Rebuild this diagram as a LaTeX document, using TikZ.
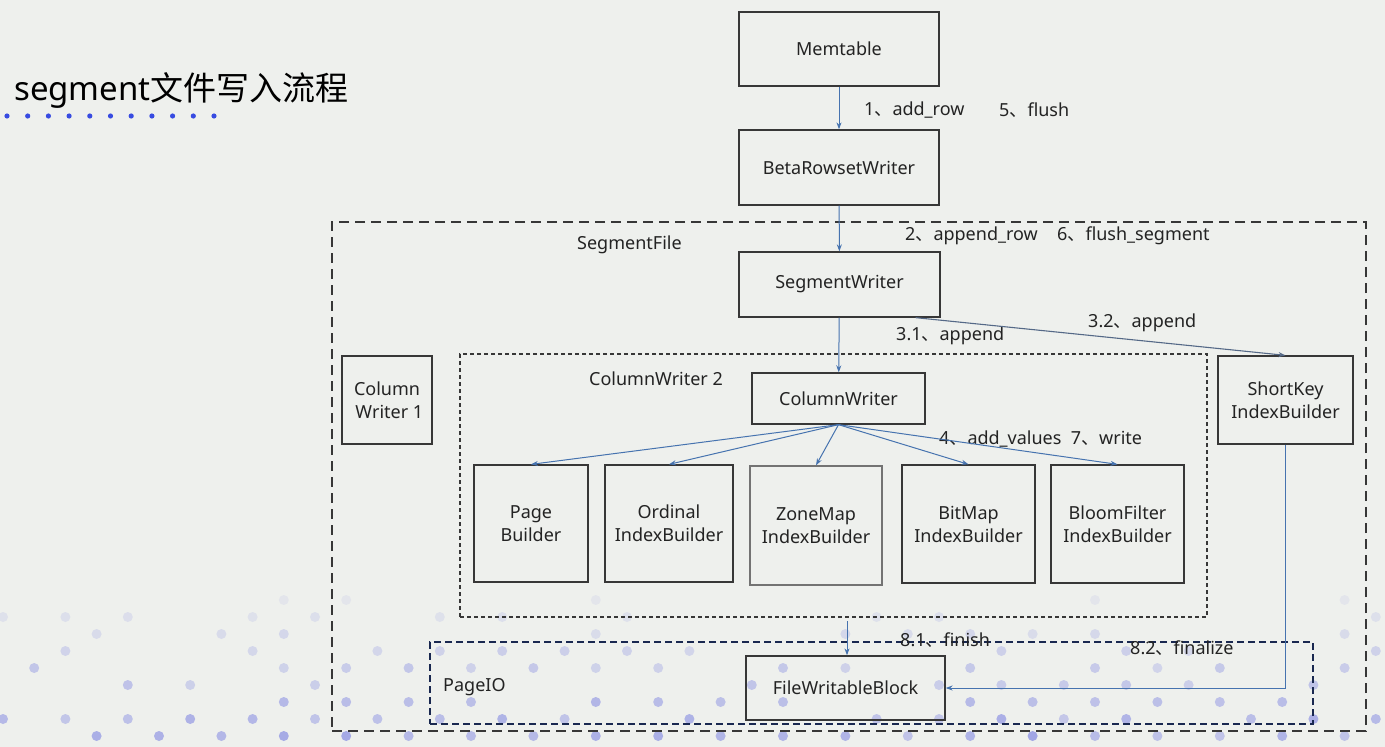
\documentclass[tikz,border=0pt]{standalone}
\usepackage{fontspec}
\setmainfont{Noto Sans}
\newfontfamily\cjk{Noto Sans CJK SC}
\usetikzlibrary{arrows.meta,calc}
\newcommand\dun{{\cjk 、}}
\definecolor{bgc}{RGB}{238,240,237}
\definecolor{boxc}{RGB}{55,55,55}
\definecolor{txtc}{RGB}{35,35,35}
\definecolor{arrc}{RGB}{70,115,175}
\definecolor{arrg}{RGB}{85,105,135}
\definecolor{navy}{RGB}{25,40,80}
\definecolor{dotc}{RGB}{150,155,228}
\definecolor{titledot}{RGB}{55,75,225}
\tikzset{
  box/.style={draw=boxc,line width=1.3pt,align=center,text=txtc,inner sep=0pt,
    font=\fontsize{18}{23}\selectfont},
  lbl/.style={text=txtc,anchor=west,inner sep=0pt,font=\fontsize{18}{23}\selectfont},
  conn/.style={draw=arrc,line width=1pt,-{Stealth[length=7pt,width=5pt]}},
  conng/.style={draw=arrg,line width=1.1pt,-{Stealth[length=7pt,width=5pt]}},
}
\begin{document}
\begin{tikzpicture}[x=1pt,y=-1pt]
\fill[bgc] (0,0) rectangle (1385,747);
\useasboundingbox (0,0) rectangle (1385,747);
% background dots
\pgfmathsetseed{11}
\foreach \k in {0,...,8}{
  \foreach \i in {0,...,44}{
    \pgfmathsetmacro\myparity{mod(\i+\k+1,2)}
    \ifdim\myparity pt<0.5pt
      \pgfmathsetmacro\rr{rnd}
      \pgfmathsetmacro\thr{0.25+0.07*\k}
      \ifdim\rr pt<\thr pt
        \pgfmathsetmacro\op{0.12+0.05*\k+0.35*rnd*(\k/8)}
        \fill[dotc,opacity=\op] ({3+31.2*\i},{600+17*\k}) circle (5);
      \fi
    \fi
  }
}
% title
\node[anchor=west,inner sep=0pt,text=black,font=\fontsize{33}{38}\selectfont] (title) at (14,90) {segment{\cjk 文件写入流程}};
\foreach \j in {0,...,10}{
  \fill[titledot] ({7+20.7*\j},116) circle (2.6);
}
% containers
\node[draw=boxc,line width=1.4pt,dash pattern=on 10pt off 6pt,minimum width=1034,minimum height=509] (segfile) at (849,476.5) {};
\node[draw=boxc,line width=1.2pt,dash pattern=on 4pt off 3pt,minimum width=747,minimum height=263] (cw2box) at (833.5,485.5) {};
\node[draw=navy,line width=1.5pt,dash pattern=on 7pt off 4pt,minimum width=883,minimum height=82] (pageio) at (871.5,683) {};
% boxes
\node[box,minimum width=200,minimum height=74] (mem) at (839,49) {Memtable};
\node[box,minimum width=200,minimum height=75] (beta) at (839,167.5) {BetaRowsetWriter};
\node[box,minimum width=201,minimum height=65] (sw) at (839.5,284.5) {SegmentWriter};
\node[box,minimum width=90,minimum height=88] (cw1) at (387,400) {Column\\\ Writer 1};
\node[box,minimum width=135,minimum height=88] (sk) at (1285.5,400) {ShortKey\\IndexBuilder};
\node[box,minimum width=173,minimum height=51] (cw) at (838.5,398.5) {ColumnWriter};
\node[box,minimum width=114,minimum height=117] (pb) at (531,523.5) {Page\\Builder};
\node[box,minimum width=128,minimum height=117] (ob) at (669,523.5) {Ordinal\\IndexBuilder};
\node[box,draw=boxc!70,minimum width=132,minimum height=119] (zb) at (816,525.5) {ZoneMap\\IndexBuilder};
\node[box,minimum width=133,minimum height=118] (bmb) at (968.5,524) {BitMap\\IndexBuilder};
\node[box,minimum width=133,minimum height=118] (bfb) at (1117.5,524) {BloomFilter\\IndexBuilder};
\node[box,minimum width=199,minimum height=64] (fwb) at (845.5,688) {FileWritableBlock};
% labels
\node[lbl] (l1) at (864,110) {1\dun add\_row};
\node[lbl] (l5) at (999,110) {5\dun flush};
\node[lbl] (l2) at (905,236) {2\dun append\_row};
\node[lbl] (l6) at (1057,236) {6\dun flush\_segment};
\node[lbl] (lsf) at (577,245) {SegmentFile};
\node[lbl] (l31) at (896,336) {3.1\dun append};
\node[lbl] (l32) at (1088,323) {3.2\dun append};
\node[lbl] (lcw2) at (589,379) {ColumnWriter 2};
\node[lbl] (l4) at (939,439) {4\dun add\_values\ \ 7\dun write};
\node[lbl] (l81) at (900,640) {8.1\dun finish};
\node[lbl] (l82) at (1130,648) {8.2\dun finalize};
\node[lbl] (lpio) at (443,687) {PageIO};
% connectors
\draw[conn] (mem) -- (beta);
\draw[conn] (beta) -- (sw);
\draw[conn] (sw) -- (cw);
\coordinate (swout) at ($(sw.south east)+(-25,0)$);
\draw[conng] (swout) -- (sk.north);
\foreach \t in {pb,ob,zb,bmb,bfb}{
  \draw[conn] (cw.south) -- (\t.north);
}
\coordinate (fwbin) at ($(fwb.north)+(1.5,-34)$);
\draw[conn] (fwbin) -- ($(fwb.north)+(1.5,0)$);
\draw[conn] (sk.south) |- (fwb.east);
\end{tikzpicture}
\end{document}
